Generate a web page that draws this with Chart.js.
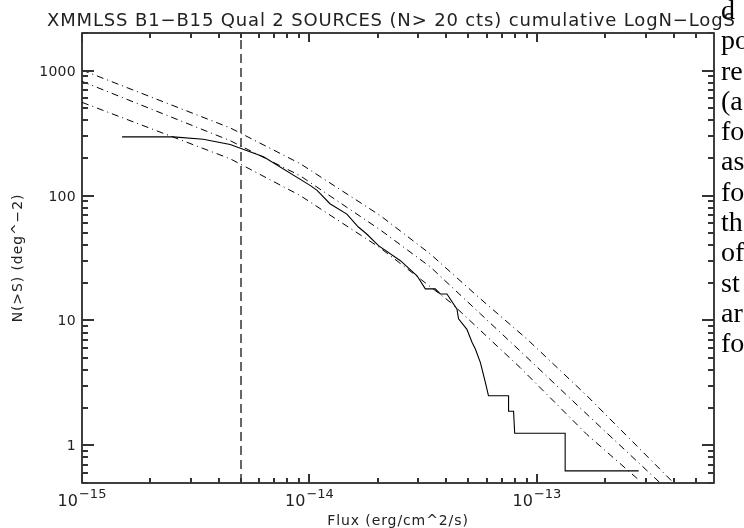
<!DOCTYPE html>
<html>
<head>
<meta charset="utf-8">
<script src="https://cdn.jsdelivr.net/npm/chart.js@4.4.0/dist/chart.umd.min.js"></script>
<style>
    body { margin: 0; background: #fff; overflow: hidden; }
    #wrap { position: relative; width: 744px; height: 528px; }
    #side {
        position: absolute; left: 721px; top: -5px; width: 23px; overflow: hidden;
        font-family: "Liberation Serif", serif; font-size: 28px; line-height: 30.3px;
        white-space: nowrap; color: #000;
    }
</style>
</head>
<body>
<div id="wrap">
    <canvas id="mainChart" width="744" height="528"></canvas>
    <div id="side">d<br>po<br>re<br>(a<br>fo<br>as<br>fo<br>th<br>of<br>st<br>ar<br>fo</div>
</div>
<script>
// observed cumulative counts
const obsFlux = [1.50e-15, 2.52e-15, 3.41e-15, 4.48e-15, 6.28e-15, 1.01e-14, 1.08e-14, 1.23e-14,
    1.46e-14, 1.64e-14, 1.79e-14, 2.01e-14, 2.51e-14, 2.97e-14, 3.23e-14, 3.57e-14, 3.76e-14,
    4.02e-14, 4.45e-14, 4.52e-14, 4.92e-14, 5.18e-14, 5.36e-14, 5.64e-14, 5.93e-14, 6.12e-14,
    7.50e-14, 7.50e-14, 7.89e-14, 7.98e-14, 1.33e-13, 1.33e-13, 2.80e-13];
const obsN = [295, 295, 282, 256, 204, 120, 110, 86, 71, 56, 49, 39.7, 30.1, 22.8, 17.9, 17.9, 16.3,
    16.3, 12.3, 10.3, 8.5, 6.7, 5.9, 4.6, 3.2, 2.5, 2.5, 1.875, 1.875, 1.25, 1.25, 0.625, 0.625];

// model curves
const modelFluxA = [1.0e-15, 4.48e-15, 9.1e-15, 2.05e-14, 3.40e-14, 5.64e-14, 9.04e-14, 1.66e-13, 3.99e-13];
const modelNA = [1010, 348, 180, 69, 34, 14.9, 7.1, 2.49, 0.50];
const modelFluxB = [1.0e-15, 4.48e-15, 9.1e-15, 2.05e-14, 3.40e-14, 5.64e-14, 8.43e-14, 1.66e-13, 3.48e-13];
const modelNB = [820, 275, 144, 53, 26.8, 11.3, 5.7, 1.77, 0.50];
const modelFluxC = [1.0e-15, 4.48e-15, 9.1e-15, 2.05e-14, 4.16e-14, 6.90e-14, 8.43e-14, 1.66e-13, 2.80e-13];
const modelNC = [557, 197, 100, 38, 14, 5.9, 4.2, 1.22, 0.53];

// flux limit marker
const limitFlux = 5e-15;

// axes
const xRange = [1e-15, 6e-13];
const yRange = [0.5, 2000];
const xMajorTicks = [1e-15, 1e-14, 1e-13];
const xTickExps = ['\u221215', '\u221214', '\u221213'];
const yMajorTicks = [1, 10, 100, 1000];
const yTickLabels = ['1', '10', '100', '1000'];

const chartTitle = 'XMMLSS B1\u2212B15 Qual 2 SOURCES (N> 20 cts) cumulative LogN\u2212LogS';
const xTitle = 'Flux (erg/cm^2/s)';
const yTitle = 'N(>S) (deg^\u22122)';

const toPoints = (xs, ys) => xs.map((v, i) => ({ x: v, y: ys[i] }));
const FONT = '"DejaVu Sans", sans-serif';

// frame, inward ticks and all labels
const framePlugin = {
    id: 'frame',
    afterDraw(chart) {
        const { ctx, chartArea: a, scales: { x, y } } = chart;
        ctx.save();
        ctx.setLineDash([]);
        ctx.strokeStyle = '#000';
        ctx.lineWidth = 1.5;
        ctx.strokeRect(a.left, a.top, a.right - a.left, a.bottom - a.top);

        // ticks pointing into the plot, on all four sides
        ctx.fillStyle = '#333';
        for (let d = -15; d <= -13; d++) {
            for (let m = 1; m <= 9; m++) {
                const v = m * Math.pow(10, d);
                if (v < xRange[0] || v > xRange[1]) continue;
                const px = Math.round(x.getPixelForValue(v));
                const len = m === 1 ? 9 : 5;
                ctx.fillRect(px - 1, a.bottom - len, 2, len);
                ctx.fillRect(px - 1, a.top, 2, len);
            }
        }
        for (let d = -1; d <= 3; d++) {
            for (let m = 1; m <= 9; m++) {
                const v = m * Math.pow(10, d);
                if (v < yRange[0] || v > yRange[1]) continue;
                const py = Math.round(y.getPixelForValue(v));
                const len = m === 1 ? 12 : 6;
                ctx.fillRect(a.left, py - 1, len, 2);
                ctx.fillRect(a.right - len, py - 1, len, 2);
            }
        }

        ctx.fillStyle = '#222';
        // y tick labels
        ctx.font = '14px ' + FONT;
        ctx.letterSpacing = '0.3px';
        ctx.textAlign = 'right';
        ctx.textBaseline = 'alphabetic';
        yMajorTicks.forEach((v, i) => {
            ctx.fillText(yTickLabels[i], a.left - 6, y.getPixelForValue(v) + 5);
        });

        // x tick labels: 10 with exponent
        ctx.letterSpacing = '0px';
        ctx.textAlign = 'left';
        xMajorTicks.forEach((v, i) => {
            const px = x.getPixelForValue(v);
            ctx.font = '16px ' + FONT;
            const w1 = ctx.measureText('10').width;
            ctx.font = '13px ' + FONT;
            const w2 = ctx.measureText(xTickExps[i]).width;
            const start = px - (w1 + 1 + w2) / 2;
            ctx.font = '16px ' + FONT;
            ctx.fillText('10', start, a.bottom + 23);
            ctx.font = '13px ' + FONT;
            ctx.fillText(xTickExps[i], start + w1 + 1, a.bottom + 15);
        });

        // title
        ctx.font = '18px ' + FONT;
        ctx.letterSpacing = '0.85px';
        ctx.textAlign = 'left';
        ctx.fillText(chartTitle, 47, 26);

        // axis titles
        ctx.font = '14px ' + FONT;
        ctx.letterSpacing = '0.9px';
        ctx.textAlign = 'center';
        ctx.fillText(xTitle, (a.left + a.right) / 2, 525);
        ctx.translate(22, (a.top + a.bottom) / 2);
        ctx.rotate(-Math.PI / 2);
        ctx.fillText(yTitle, 0, 0);
        ctx.restore();
    }
};

const dashDot = [7, 4, 1, 4];

new Chart(document.getElementById('mainChart').getContext('2d'), {
    type: 'scatter',
    data: {
        datasets: [
            {
                label: 'observed',
                data: toPoints(obsFlux, obsN),
                borderColor: '#000', borderWidth: 1.1
            },
            {
                label: 'model A',
                data: toPoints(modelFluxA, modelNA),
                borderColor: '#000', borderWidth: 1, borderDash: dashDot
            },
            {
                label: 'model B',
                data: toPoints(modelFluxB, modelNB),
                borderColor: '#000', borderWidth: 1, borderDash: dashDot
            },
            {
                label: 'model C',
                data: toPoints(modelFluxC, modelNC),
                borderColor: '#000', borderWidth: 1, borderDash: dashDot
            },
            {
                label: 'limit',
                data: [{ x: limitFlux, y: yRange[0] }, { x: limitFlux, y: yRange[1] }],
                borderColor: '#000', borderWidth: 1.2, borderDash: [9, 5]
            }
        ]
    },
    options: {
        responsive: false,
        animation: false,
        showLine: true,
        elements: { point: { radius: 0 }, line: { tension: 0 } },
        layout: { padding: { left: 82, right: 30, top: 33, bottom: 45 } },
        scales: {
            x: { type: 'logarithmic', min: xRange[0], max: xRange[1], display: false },
            y: { type: 'logarithmic', min: yRange[0], max: yRange[1], display: false }
        },
        plugins: {
            legend: { display: false },
            tooltip: { enabled: false }
        }
    },
    plugins: [framePlugin]
});
</script>
</body>
</html>
